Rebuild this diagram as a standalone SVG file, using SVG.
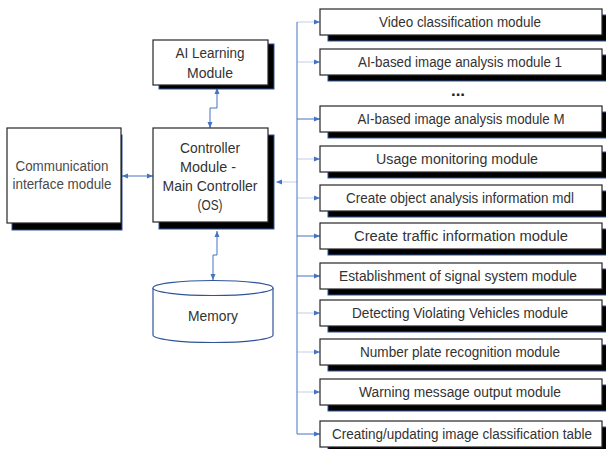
<svg xmlns="http://www.w3.org/2000/svg" width="606" height="449" viewBox="0 0 606 449">
<style>
.sh{fill:#000;stroke:#2F5597;stroke-width:1}
.bx{fill:#fff;stroke:#262626;stroke-width:1.2}
.t{font-family:"Liberation Sans",Arial,sans-serif;fill:#333;text-anchor:middle}
.r{font-size:14px}
.l{font-size:15.5px}
.c{fill:none;stroke:#4472C4;stroke-width:1}
.f{stroke-opacity:0.35}
</style>
<defs>
<marker id="ah" viewBox="0 0 6 6" refX="6" refY="3" markerWidth="6" markerHeight="6" markerUnits="userSpaceOnUse" orient="auto-start-reverse">
<path d="M0,0.5 L6,3 L0,5.5 Z" fill="#4472C4"/>
</marker>
</defs>
<g id="connectors">
<polyline class="c" points="217,88 217,108 210,108 210,128" marker-start="url(#ah)" marker-end="url(#ah)"/>
<line class="c" x1="122" y1="176" x2="153" y2="176" marker-start="url(#ah)" marker-end="url(#ah)"/>
<polyline class="c" points="217,231 217,255 213,255 213,280" marker-start="url(#ah)" marker-end="url(#ah)"/>
<line class="c f" x1="297" y1="182" x2="276" y2="182" marker-end="url(#ah)"/>
<polyline class="c" points="297,22 297,434 320,434" marker-end="url(#ah)"/>
<line class="c f" x1="297" y1="22" x2="320" y2="22" marker-end="url(#ah)"/>
<line class="c f" x1="297" y1="62" x2="320" y2="62" marker-end="url(#ah)"/>
<line class="c" x1="297" y1="119" x2="320" y2="119" marker-end="url(#ah)"/>
<line class="c f" x1="297" y1="159" x2="320" y2="159" marker-end="url(#ah)"/>
<line class="c f" x1="297" y1="198" x2="320" y2="198" marker-end="url(#ah)"/>
<line class="c" x1="297" y1="236" x2="320" y2="236" marker-end="url(#ah)"/>
<line class="c" x1="297" y1="276" x2="320" y2="276" marker-end="url(#ah)"/>
<line class="c f" x1="297" y1="313" x2="320" y2="313" marker-end="url(#ah)"/>
<line class="c f" x1="297" y1="352" x2="320" y2="352" marker-end="url(#ah)"/>
<line class="c f" x1="297" y1="392" x2="320" y2="392" marker-end="url(#ah)"/>
</g>
<g id="ai-learning">
<rect class="sh" x="159" y="44" width="115" height="45"/>
<rect class="bx" x="153" y="40" width="115" height="45"/>
<text class="t l" x="210" y="58" textLength="69" lengthAdjust="spacingAndGlyphs">AI Learning</text>
<text class="t l" x="210" y="78" textLength="46" lengthAdjust="spacingAndGlyphs">Module</text>
</g>
<g id="controller">
<rect class="sh" x="159" y="135" width="115" height="94"/>
<rect class="bx" x="153" y="128" width="115" height="94"/>
<text class="t l" x="210" y="153" textLength="60" lengthAdjust="spacingAndGlyphs">Controller</text>
<text class="t l" x="208" y="172" textLength="56" lengthAdjust="spacingAndGlyphs">Module -</text>
<text class="t l" x="210" y="191" textLength="95" lengthAdjust="spacingAndGlyphs">Main Controller</text>
<text class="t l" x="210" y="210" textLength="25" lengthAdjust="spacingAndGlyphs">(OS)</text>
</g>
<g id="communication">
<rect class="sh" x="12" y="135" width="110" height="95"/>
<rect class="bx" x="7" y="128" width="114" height="95"/>
<text class="t l" x="62" y="171" style="fill:#4a4a4a" textLength="93" lengthAdjust="spacingAndGlyphs">Communication</text>
<text class="t l" x="62" y="189" style="fill:#4a4a4a" textLength="99" lengthAdjust="spacingAndGlyphs">interface module</text>
</g>
<g id="memory">
<path d="M153,288 L153,335 A60,7.5 0 0 0 273,335 L273,288" fill="#fff" stroke="#2F5597" stroke-width="1.2"/>
<ellipse cx="213" cy="288" rx="60" ry="7.5" fill="#fff" stroke="#2F5597" stroke-width="1.2"/>
<text class="t l" x="213" y="321" textLength="50" lengthAdjust="spacingAndGlyphs">Memory</text>
</g>
<g id="video-classification">
<rect class="sh" x="328" y="15" width="282" height="26"/>
<rect class="bx" x="320" y="9" width="282" height="26"/>
<text class="t r" x="460" y="27" textLength="162" lengthAdjust="spacingAndGlyphs">Video classification module</text>
</g>
<g id="ai-analysis-1">
<rect class="sh" x="328" y="55" width="282" height="26"/>
<rect class="bx" x="320" y="49" width="282" height="26"/>
<text class="t r" x="460" y="67" textLength="204" lengthAdjust="spacingAndGlyphs">AI-based image analysis module 1</text>
</g>
<text class="t" x="458" y="96" style="font-size:17px;font-weight:bold;fill:#222">...</text>
<g id="ai-analysis-m">
<rect class="sh" x="328" y="112" width="282" height="26"/>
<rect class="bx" x="320" y="106" width="282" height="26"/>
<text class="t r" x="461" y="124" textLength="207" lengthAdjust="spacingAndGlyphs">AI-based image analysis module M</text>
</g>
<g id="usage-monitoring">
<rect class="sh" x="328" y="152" width="282" height="26"/>
<rect class="bx" x="320" y="146" width="282" height="26"/>
<text class="t r" x="457" y="164" textLength="162" lengthAdjust="spacingAndGlyphs">Usage monitoring module</text>
</g>
<g id="object-analysis">
<rect class="sh" x="328" y="191" width="282" height="26"/>
<rect class="bx" x="320" y="185" width="282" height="26"/>
<text class="t r" x="460" y="203" textLength="228" lengthAdjust="spacingAndGlyphs">Create object analysis information mdl</text>
</g>
<g id="traffic-information">
<rect class="sh" x="328" y="229" width="282" height="26"/>
<rect class="bx" x="320" y="223" width="282" height="26"/>
<text class="t r" x="461" y="241" textLength="214" lengthAdjust="spacingAndGlyphs">Create traffic information module</text>
</g>
<g id="signal-system">
<rect class="sh" x="328" y="269" width="282" height="26"/>
<rect class="bx" x="320" y="263" width="282" height="26"/>
<text class="t r" x="458" y="281" textLength="238" lengthAdjust="spacingAndGlyphs">Establishment of signal system module</text>
</g>
<g id="violating-vehicles">
<rect class="sh" x="328" y="306" width="282" height="26"/>
<rect class="bx" x="320" y="300" width="282" height="26"/>
<text class="t r" x="460" y="318" textLength="216" lengthAdjust="spacingAndGlyphs">Detecting Violating Vehicles module</text>
</g>
<g id="number-plate">
<rect class="sh" x="328" y="345" width="282" height="26"/>
<rect class="bx" x="320" y="339" width="282" height="26"/>
<text class="t r" x="460" y="357" textLength="200" lengthAdjust="spacingAndGlyphs">Number plate recognition module</text>
</g>
<g id="warning-message">
<rect class="sh" x="328" y="385" width="282" height="26"/>
<rect class="bx" x="320" y="379" width="282" height="26"/>
<text class="t r" x="460" y="397" textLength="202" lengthAdjust="spacingAndGlyphs">Warning message output module</text>
</g>
<g id="classification-table">
<rect class="sh" x="328" y="427" width="282" height="26"/>
<rect class="bx" x="320" y="421" width="282" height="26"/>
<text class="t r" x="462" y="439" textLength="260" lengthAdjust="spacingAndGlyphs">Creating/updating image classification table</text>
</g>
</svg>
